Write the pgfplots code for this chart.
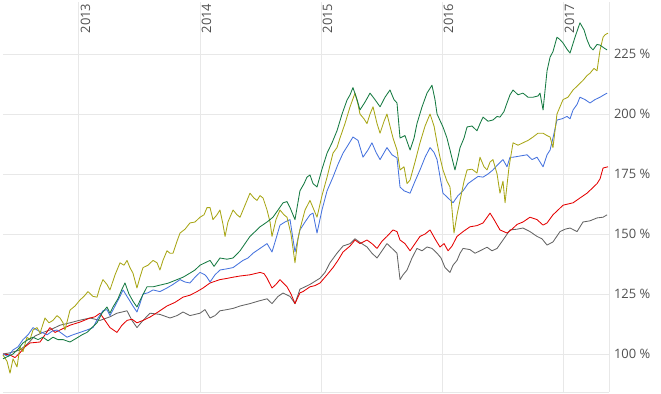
\documentclass[border=0pt]{standalone}
\usepackage{pgfplots}
\pgfplotsset{compat=1.18}
\usepackage{fontspec}
\setmainfont{Open Sans}
\definecolor{cgreen}{RGB}{22,122,66}
\definecolor{colive}{RGB}{168,166,22}
\definecolor{cblue}{RGB}{70,115,222}
\definecolor{cred}{RGB}{228,0,0}
\definecolor{cgray}{RGB}{100,100,100}
\definecolor{cgrid}{RGB}{232,232,232}
\definecolor{clabel}{RGB}{80,80,80}
\begin{document}
\begin{tikzpicture}
\path[use as bounding box] (-3bp,-2bp) rectangle (658bp,392bp);
\begin{axis}[
  at={(0,0)}, anchor=south west,
  scale only axis, width=606bp, height=390bp,
  xmin=2012.372, xmax=2017.380,
  ymin=84.17, ymax=246.67,
  axis x line*=bottom, axis y line*=right,
  axis line style={cgrid, line width=1bp, -},
  xtick={2013,2014,2015,2016,2017}, xticklabels={},
  ytick={100,125,150,175,200,225},
  yticklabel={\pgfmathprintnumber{\tick}~\%},
  yticklabel style={font=\fontsize{13}{15}\selectfont, text=clabel, xshift=1.5bp},
  /pgf/number format/assume math mode=true,
  major tick length=0pt,
  grid=major, major grid style={cgrid, line width=1bp},
  every axis plot/.append style={line width=0.85bp, line join=round},
  clip=false,
]
\pgfplotsinvokeforeach{2013,2014,2015,2016,2017}{
  \node[rotate=90, anchor=north east, inner sep=1.5bp, font=\fontsize{13}{15}\selectfont, text=clabel] at (axis cs:#1,246.67) {#1};
}
% gray
\addplot[cgray] coordinates {
(2012.372,100)(2012.430,100.5)(2012.512,101.7)(2012.570,104)(2012.636,107.5)(2012.702,109)(2012.760,110)(2012.843,112)(2012.926,113)(2013.000,114)(2013.091,115)(2013.174,114)(2013.256,115.5)(2013.314,117)(2013.397,118)(2013.438,114)(2013.479,111)(2013.529,114)(2013.587,117)(2013.669,116.5)(2013.752,115)(2013.810,116)(2013.860,117.5)(2013.917,116)(2014.000,117)(2014.041,118.5)(2014.083,115)(2014.124,116)(2014.165,118)(2014.223,118.5)(2014.273,119)(2014.331,120)(2014.413,121)(2014.479,122)(2014.554,123)(2014.595,121)(2014.645,124)(2014.686,125.4)(2014.744,124)(2014.785,121)(2014.826,127)(2014.868,128)(2014.909,129)(2014.992,131.6)(2015.033,134)(2015.074,138)(2015.132,142)(2015.182,145)(2015.240,146)(2015.281,148)(2015.322,146.5)(2015.380,144.6)(2015.421,142)(2015.463,140)(2015.504,143)(2015.545,146)(2015.587,144)(2015.628,142)(2015.653,131)(2015.678,133)(2015.711,135)(2015.752,140)(2015.793,144)(2015.835,143)(2015.876,144.6)(2015.917,144)(2015.959,142)(2015.992,140)(2016.025,136)(2016.066,134)(2016.091,137)(2016.124,139)(2016.149,142)(2016.174,144)(2016.231,143.5)(2016.273,142)(2016.314,143)(2016.372,144.5)(2016.413,143)(2016.455,144)(2016.504,147.5)(2016.562,151.7)(2016.620,152)(2016.669,152.5)(2016.727,151)(2016.785,149)(2016.826,148)(2016.868,145.4)(2016.917,146.7)(2016.975,151)(2017.017,152)(2017.058,152.5)(2017.116,151)(2017.165,155)(2017.223,155.5)(2017.281,156.7)(2017.331,157)(2017.364,158)
};
% red
\addplot[cred] coordinates {
(2012.372,100)(2012.430,99.6)(2012.471,98.5)(2012.512,100.5)(2012.554,103)(2012.595,104.6)(2012.678,105)(2012.719,108)(2012.760,111)(2012.802,109)(2012.843,110)(2012.884,111)(2012.926,112)(2013.008,113.3)(2013.091,115)(2013.132,115.5)(2013.174,117)(2013.215,114)(2013.256,111)(2013.314,109)(2013.355,112)(2013.397,114)(2013.438,114.5)(2013.479,113)(2013.529,114)(2013.587,115.4)(2013.653,117.5)(2013.727,120)(2013.793,121.5)(2013.860,123.7)(2013.917,124.5)(2013.975,126)(2014.025,127.5)(2014.083,129.6)(2014.165,131)(2014.223,131.5)(2014.273,132)(2014.331,132.5)(2014.413,133)(2014.496,134)(2014.529,133.5)(2014.554,131.6)(2014.595,127.5)(2014.628,129)(2014.661,131)(2014.719,128)(2014.752,125)(2014.785,121)(2014.826,125.5)(2014.851,126)(2014.909,128)(2014.950,128.5)(2014.992,129.6)(2015.050,133)(2015.099,136)(2015.140,139)(2015.182,142.5)(2015.240,145)(2015.281,147.5)(2015.322,146)(2015.380,147.5)(2015.421,146)(2015.463,144)(2015.504,147)(2015.545,149)(2015.595,151.7)(2015.628,151)(2015.653,147.5)(2015.694,146)(2015.736,143)(2015.777,146)(2015.818,149)(2015.860,150)(2015.901,151.7)(2015.942,148)(2015.983,144.6)(2016.017,146)(2016.050,143)(2016.083,145)(2016.124,149)(2016.174,151)(2016.231,153)(2016.289,153.5)(2016.339,154.6)(2016.397,158.7)(2016.430,156)(2016.479,151.7)(2016.537,150.4)(2016.579,152)(2016.620,154)(2016.669,155)(2016.727,157)(2016.785,156)(2016.835,153.7)(2016.868,154.6)(2016.917,158)(2016.959,160)(2017.000,162)(2017.041,162.5)(2017.083,163)(2017.140,165)(2017.198,167)(2017.240,169)(2017.281,171)(2017.306,173)(2017.331,177.5)(2017.372,178)
};
% blue
\addplot[cblue] coordinates {
(2012.372,100)(2012.413,99)(2012.455,101.7)(2012.496,103)(2012.537,106)(2012.579,108)(2012.620,111)(2012.653,110)(2012.694,109)(2012.736,108)(2012.777,109.5)(2012.818,110)(2012.860,108.5)(2012.901,107)(2012.950,108)(2013.008,109)(2013.066,110)(2013.116,111)(2013.157,115)(2013.198,118)(2013.231,118.5)(2013.256,116)(2013.298,120)(2013.339,124)(2013.364,126.7)(2013.397,124)(2013.446,120)(2013.479,117.5)(2013.504,121)(2013.529,125)(2013.570,125.5)(2013.612,126.7)(2013.669,126)(2013.727,127.5)(2013.777,129)(2013.835,131)(2013.876,130)(2013.917,129.6)(2013.959,132)(2014.000,134)(2014.041,133)(2014.058,132)(2014.083,130)(2014.124,133)(2014.165,135)(2014.223,135.5)(2014.273,136)(2014.314,137.5)(2014.355,139)(2014.397,140)(2014.438,142)(2014.496,144)(2014.554,146)(2014.595,142.5)(2014.628,148)(2014.661,153.7)(2014.702,155)(2014.744,156)(2014.785,142.5)(2014.826,151.7)(2014.868,155)(2014.909,158)(2014.934,158.7)(2014.967,150.4)(2015.008,160)(2015.050,168)(2015.099,173.7)(2015.140,179)(2015.182,183.7)(2015.223,187)(2015.264,190.4)(2015.306,189)(2015.347,182)(2015.388,185)(2015.421,188)(2015.455,184)(2015.488,181)(2015.545,186)(2015.587,183)(2015.628,181.7)(2015.653,169.6)(2015.686,168)(2015.736,167)(2015.777,172)(2015.818,176.7)(2015.860,182)(2015.901,186)(2015.934,184)(2015.959,181)(2015.983,174)(2016.008,167)(2016.050,165)(2016.091,163)(2016.132,166)(2016.174,168)(2016.215,171)(2016.256,172.5)(2016.298,174)(2016.339,173.7)(2016.380,175)(2016.421,176.7)(2016.463,179)(2016.504,181)(2016.537,178)(2016.562,182)(2016.587,182)(2016.645,182.5)(2016.702,183)(2016.744,181)(2016.785,182)(2016.835,178)(2016.868,183)(2016.893,185)(2016.917,190)(2016.950,197.5)(2016.992,198)(2017.033,199)(2017.058,198)(2017.083,201.7)(2017.116,204)(2017.140,207)(2017.182,206)(2017.223,204.6)(2017.264,206)(2017.306,207)(2017.339,208)(2017.364,208.7)
};
% olive
\addplot[colive] coordinates {
(2012.372,99.6)(2012.405,97)(2012.430,92)(2012.455,98)(2012.488,94.6)(2012.512,103)(2012.537,101)(2012.570,107)(2012.595,106)(2012.620,110)(2012.653,111)(2012.678,108.7)(2012.719,115)(2012.752,113)(2012.785,114)(2012.818,116)(2012.843,115)(2012.868,113)(2012.884,110)(2012.926,118.3)(2012.967,120)(2013.008,122.5)(2013.041,124)(2013.074,126)(2013.116,124)(2013.149,123.7)(2013.174,128)(2013.198,131)(2013.231,129)(2013.256,126.7)(2013.298,133)(2013.339,138)(2013.372,137)(2013.397,139)(2013.421,136)(2013.446,133.7)(2013.479,127.5)(2013.504,132)(2013.529,136)(2013.570,137)(2013.612,139)(2013.645,138)(2013.669,135)(2013.694,139)(2013.727,143)(2013.752,142)(2013.777,142)(2013.810,147)(2013.835,150.4)(2013.876,152)(2013.917,154.6)(2013.959,155)(2014.000,157)(2014.033,158)(2014.058,161)(2014.083,161)(2014.107,156)(2014.140,158)(2014.165,160)(2014.190,154)(2014.207,149)(2014.231,155)(2014.273,160)(2014.306,158)(2014.331,157)(2014.372,162)(2014.413,167)(2014.446,165)(2014.471,164)(2014.496,166)(2014.521,165)(2014.554,160)(2014.579,155)(2014.595,149)(2014.628,156)(2014.661,160)(2014.694,158)(2014.719,157)(2014.752,150)(2014.785,138)(2014.810,148)(2014.826,152)(2014.868,160)(2014.909,164)(2014.942,160)(2014.967,157)(2015.008,166)(2015.050,173.7)(2015.099,183.7)(2015.132,186)(2015.157,190)(2015.198,196)(2015.240,203)(2015.281,208.7)(2015.306,204)(2015.322,200)(2015.355,198)(2015.380,196)(2015.405,200)(2015.430,203)(2015.463,196)(2015.488,192)(2015.521,197)(2015.545,200)(2015.570,195)(2015.595,190)(2015.628,185)(2015.653,176.7)(2015.686,178)(2015.711,171)(2015.736,172.5)(2015.777,180)(2015.818,188)(2015.860,195)(2015.901,200)(2015.934,195)(2015.959,188)(2015.983,182)(2016.008,176.7)(2016.041,172)(2016.066,169.6)(2016.083,160)(2016.099,150.4)(2016.124,158)(2016.149,164)(2016.182,172)(2016.207,176.7)(2016.248,177)(2016.289,175.4)(2016.314,182)(2016.347,178)(2016.372,176.7)(2016.397,180)(2016.421,181)(2016.455,175)(2016.479,167)(2016.504,172)(2016.521,163)(2016.554,178)(2016.587,188)(2016.628,187)(2016.669,188)(2016.711,189)(2016.752,190.4)(2016.793,192)(2016.835,192)(2016.868,191)(2016.893,190.4)(2016.917,186)(2016.950,200)(2016.975,203)(2017.000,206)(2017.041,207)(2017.083,210)(2017.124,212)(2017.165,214)(2017.198,216)(2017.223,217)(2017.256,219)(2017.281,218)(2017.306,226.7)(2017.331,232)(2017.347,233)(2017.372,233.7)
};
% green
\addplot[cgreen] coordinates {
(2012.372,98)(2012.413,99)(2012.455,100)(2012.496,102)(2012.537,104.6)(2012.579,106)(2012.620,107)(2012.661,106)(2012.702,107)(2012.744,105.5)(2012.785,107)(2012.826,106)(2012.868,106)(2012.926,105)(2012.983,106.7)(2013.025,108)(2013.066,109)(2013.107,111)(2013.149,113)(2013.190,117)(2013.231,119.6)(2013.256,117)(2013.281,119.6)(2013.322,123)(2013.355,127)(2013.380,129.6)(2013.413,125)(2013.446,122)(2013.479,119.6)(2013.521,124)(2013.562,128)(2013.612,128)(2013.669,128.7)(2013.736,129.5)(2013.810,131)(2013.860,132)(2013.917,133.7)(2013.959,135)(2014.000,137)(2014.041,138)(2014.083,139)(2014.116,136.5)(2014.165,140)(2014.223,139.5)(2014.273,140)(2014.331,143)(2014.372,146)(2014.413,149)(2014.455,151)(2014.496,153)(2014.554,155)(2014.603,157)(2014.645,160)(2014.686,163)(2014.719,163.5)(2014.744,161)(2014.785,156)(2014.826,168)(2014.860,171)(2014.884,173.7)(2014.909,174.6)(2014.934,171)(2014.967,169.6)(2015.008,177)(2015.050,183.7)(2015.091,188)(2015.132,193)(2015.174,200)(2015.215,205.8)(2015.240,208)(2015.264,211)(2015.298,206)(2015.322,201.7)(2015.364,205)(2015.405,208.7)(2015.446,206)(2015.488,203)(2015.529,207)(2015.570,210)(2015.603,206)(2015.628,204.6)(2015.653,190)(2015.694,191)(2015.736,185)(2015.769,190)(2015.793,196)(2015.835,203)(2015.876,208.7)(2015.917,212)(2015.942,206)(2015.959,200)(2016.008,194.6)(2016.041,190)(2016.066,185)(2016.107,176.7)(2016.132,182)(2016.149,186)(2016.182,190)(2016.207,194.6)(2016.248,195)(2016.289,193)(2016.314,196)(2016.339,198.7)(2016.380,197)(2016.421,197.5)(2016.455,199)(2016.479,198.7)(2016.512,201)(2016.537,204.6)(2016.562,208)(2016.587,210)(2016.628,208)(2016.669,208.7)(2016.711,207)(2016.752,207)(2016.793,207.5)(2016.810,208.7)(2016.835,201.7)(2016.868,218)(2016.893,223.7)(2016.917,226)(2016.950,232)(2016.975,231)(2017.000,229.6)(2017.033,227)(2017.058,225.4)(2017.099,232)(2017.140,238)(2017.174,235)(2017.198,231)(2017.223,228)(2017.248,226.7)(2017.281,229)(2017.306,228.7)(2017.339,227.5)(2017.364,226.7)
};
\end{axis}
\end{tikzpicture}
\end{document}
